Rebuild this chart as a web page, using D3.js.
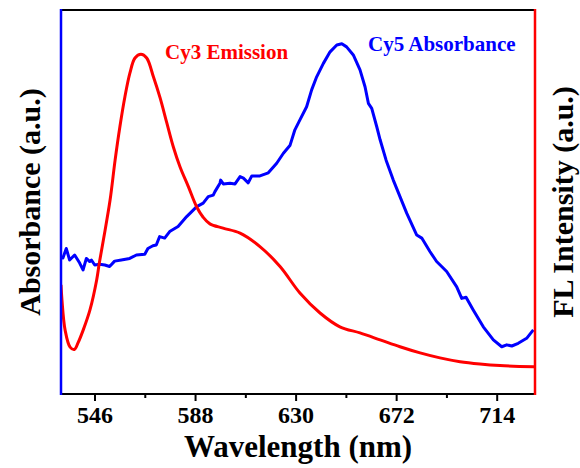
<!DOCTYPE html>
<html>
<head>
<meta charset="utf-8">
<script src="https://cdn.jsdelivr.net/npm/d3@7"></script>
<style>
  body { margin: 0; background: #fff; }
  svg text { font-family: "Liberation Serif", "Times New Roman", serif; font-weight: bold; }
</style>
</head>
<body>
<svg></svg>
<script>
// wavelength (nm) and relative intensity (a.u.)
var emWl = [532.0, 532.4, 533.7, 535.8, 537.6, 539.1, 541.3, 544.1, 546.9, 548.0, 549.7, 552.5, 554.6, 556.6,
  558.7, 560.8, 562.9, 565.4, 567.8, 570.6, 573.4, 576.2, 578.9, 581.7, 585.2, 588.7, 591.3, 594.2, 599.7,
  606.8, 615.1, 623.5, 631.8, 640.2, 648.5, 656.9, 665.3, 673.6, 682.0, 690.3, 698.7, 707.0, 715.4, 729.6];
var emVal = [28.4, 24.5, 16.7, 12.2, 11.6, 13.3, 16.7, 21.9, 29.7, 34.1, 40.1, 50.5, 60.9, 69.6,
  77.4, 83.6, 87.5, 88.5, 87.5, 82.6, 77.1, 70.6, 64.4, 59.2, 54.0, 48.7, 46.1, 44.3, 43.2,
  41.9, 38.4, 33.2, 26.3, 21.1, 17.5, 15.9, 14.1, 12.3, 10.7, 9.4, 8.4, 7.8, 7.4, 7.1];

var absWl = [532.0, 532.8, 534.2, 535.6, 537.7, 539.8, 541.2, 542.6, 544.0, 544.7, 546.1, 548.2, 550.3, 552.3,
  554.4, 557.2, 560.7, 563.5, 567.0, 568.3, 570.4, 571.8, 573.2, 575.3, 577.4, 580.9, 584.5, 588.7, 591.4,
  593.5, 595.6, 596.3, 598.4, 598.7, 599.8, 602.6, 604.7, 606.8, 608.2, 610.2, 611.7, 615.1, 618.6, 622.1,
  624.9, 627.7, 629.7, 631.8, 634.6, 636.7, 638.8, 641.6, 644.4, 647.2, 649.3, 651.3, 654.1, 656.9, 659.0,
  660.4, 661.8, 663.9, 665.3, 667.8, 670.8, 673.6, 676.4, 680.6, 682.7, 686.1, 688.9, 693.1, 697.3, 699.4,
  701.2, 704.2, 708.4, 712.6, 716.1, 718.2, 720.3, 723.0, 726.5, 729.3];
var absVal = [35.7, 35.4, 37.9, 34.9, 36.2, 34.1, 32.3, 35.3, 34.5, 34.9, 33.6, 33.8, 33.6, 33.2,
  34.6, 34.9, 35.3, 36.2, 36.4, 37.9, 38.6, 38.8, 41.0, 40.6, 42.3, 43.6, 46.2, 48.8, 49.7,
  51.4, 51.8, 52.7, 54.9, 55.7, 54.7, 54.9, 54.7, 56.6, 56.2, 55.0, 56.8, 56.8, 57.6, 60.1,
  62.7, 64.8, 68.8, 71.4, 74.8, 79.2, 82.6, 86.1, 89.1, 90.9, 91.2, 90.4, 88.3, 84.4, 80.0,
  75.7, 74.4, 69.6, 66.2, 60.9, 55.7, 51.4, 47.1, 41.4, 40.6, 37.1, 34.5, 31.9, 27.9, 24.9,
  25.2, 21.9, 17.5, 14.1, 12.3, 12.8, 12.5, 13.2, 14.5, 16.7];

var majorTicks = [546, 588, 630, 672, 714];
var minorTicks = [567, 609, 651, 693];

var width = 580;
var height = 468;
var pL = 61, pR = 535, pT = 10, pB = 394;
var midY = (pT + pB) / 2;

var svg = d3.select('svg')
    .attr('width', width)
    .attr('height', height)
    .attr('viewBox', '0 0 ' + width + ' ' + height);

var x = d3.scaleLinear().domain([532, 730]).range([pL, pR]);
var yAbs = d3.scaleLinear().domain([0, 100]).range([pB, pT]);
var yFl = d3.scaleLinear().domain([0, 100]).range([pB, pT]);

// ticks
var major = svg.append('g')
    .attr('transform', 'translate(0,' + pB + ')')
    .call(d3.axisBottom(x).tickValues(majorTicks).tickSize(7).tickPadding(5));
major.select('.domain').remove();
major.selectAll('line').attr('stroke', '#000').attr('stroke-width', 2);
major.selectAll('text')
    .attr('fill', '#000')
    .style('font-size', '24px');

var minor = svg.append('g')
    .attr('transform', 'translate(0,' + pB + ')')
    .call(d3.axisBottom(x).tickValues(minorTicks).tickSize(4).tickFormat(''));
minor.select('.domain').remove();
minor.selectAll('line').attr('stroke', '#000').attr('stroke-width', 2);

// curves
svg.append('clipPath').attr('id', 'clip')
    .append('rect').attr('x', pL).attr('y', pT).attr('width', pR - pL).attr('height', pB - pT);

var plot = svg.append('g').attr('clip-path', 'url(#clip)');

plot.append('path')
    .datum(d3.range(absWl.length))
    .attr('fill', 'none')
    .attr('stroke', '#0000ff')
    .attr('stroke-width', 3)
    .attr('stroke-linejoin', 'round')
    .attr('d', d3.line()
        .x(function (i) { return x(absWl[i]); })
        .y(function (i) { return yAbs(absVal[i]); }));

plot.append('path')
    .datum(d3.range(emWl.length))
    .attr('fill', 'none')
    .attr('stroke', '#ff0000')
    .attr('stroke-width', 3)
    .attr('d', d3.line()
        .curve(d3.curveCatmullRom)
        .x(function (i) { return x(emWl[i]); })
        .y(function (i) { return yFl(emVal[i]); }));

// frame
svg.append('line').attr('x1', pL).attr('x2', pR).attr('y1', pT).attr('y2', pT)
    .attr('stroke', '#000').attr('stroke-width', 2);
svg.append('line').attr('x1', pL).attr('x2', pR).attr('y1', pB).attr('y2', pB)
    .attr('stroke', '#000').attr('stroke-width', 2);
svg.append('line').attr('x1', pL).attr('x2', pL).attr('y1', pT - 1).attr('y2', pB + 1)
    .attr('stroke', '#0000ff').attr('stroke-width', 2.5);
svg.append('line').attr('x1', pR).attr('x2', pR).attr('y1', pT - 1).attr('y2', pB + 1)
    .attr('stroke', '#ff0000').attr('stroke-width', 2.5);

// labels
svg.append('text')
    .attr('x', (pL + pR) / 2)
    .attr('y', 457)
    .attr('text-anchor', 'middle')
    .style('font-size', '31px')
    .text('Wavelength (nm)');

svg.append('text')
    .attr('transform', 'translate(40,' + midY + ') rotate(-90)')
    .attr('text-anchor', 'middle')
    .style('font-size', '30px')
    .text('Absorbance (a.u.)');

svg.append('text')
    .attr('transform', 'translate(573,' + midY + ') rotate(-90)')
    .attr('text-anchor', 'middle')
    .style('font-size', '30px')
    .text('FL Intensity (a.u.)');

svg.append('text')
    .attr('x', 165)
    .attr('y', 59)
    .attr('fill', '#ff0000')
    .style('font-size', '21px')
    .text('Cy3 Emission');

svg.append('text')
    .attr('x', 368)
    .attr('y', 51)
    .attr('fill', '#0000ff')
    .style('font-size', '21px')
    .text('Cy5 Absorbance');
</script>
</body>
</html>
